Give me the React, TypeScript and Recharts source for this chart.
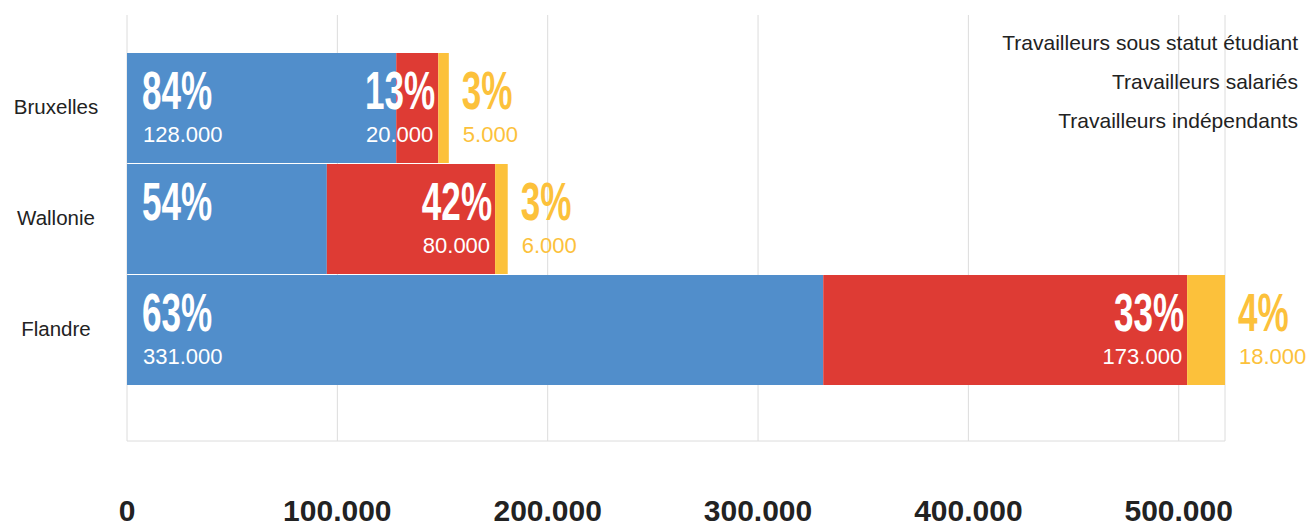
import { Bar, BarChart, CartesianGrid, LabelList, Legend, XAxis, YAxis } from 'recharts';

// Values
const regions = ['Bruxelles', 'Wallonie', 'Flandre'];
const etudiants = [128000, 95000, 331000];
const salaries = [20000, 80000, 173000];
const independants = [5000, 6000, 18000];
const pctEtudiants = [84, 54, 63];
const pctSalaries = [13, 42, 33];
const pctIndependants = [3, 3, 4];
// no count is printed for the Wallonie students
const showEtudiants = [true, false, true];
const xTicks = [0, 100000, 200000, 300000, 400000, 500000];

const seriesNames = [
  'Travailleurs sous statut étudiant',
  'Travailleurs salariés',
  'Travailleurs indépendants',
];

const data = regions.map((region, i) => ({
  region,
  etudiants: etudiants[i],
  salaries: salaries[i],
  independants: independants[i],
}));

const BLUE = '#518ecb';
const RED = '#de3b34';
const YELLOW = '#fcc13b';
const FONT = "'Liberation Sans', Arial, sans-serif";

const fmt = (v: number) =>
  v < 1000 ? String(v) : `${Math.floor(v / 1000)}.${String(v % 1000).padStart(3, '0')}`;

type Place = 'inLeft' | 'inRight' | 'outside';

function makeLabel(place: Place, values: number[], pcts: number[], color: string, show?: boolean[]) {
  return (props: any) => {
    const x = Number(props.x);
    const y = Number(props.y);
    const width = Number(props.width);
    const i = props.index ?? values.indexOf(Number(props.value));
    if (i < 0 || Number.isNaN(x)) return null;
    let tx = x + 15;
    let anchor: 'start' | 'end' = 'start';
    if (place === 'inRight') {
      tx = x + width - 3;
      anchor = 'end';
    } else if (place === 'outside') {
      tx = x + width + 13;
    }
    const showValue = show ? show[i] : true;
    return (
      <g>
        <text
          transform={`translate(${tx},${y + 56}) scale(0.65,1)`}
          textAnchor={anchor}
          fontFamily={FONT}
          fontWeight={700}
          fontSize={54}
          fill={color}
        >
          {pcts[i]}%
        </text>
        {showValue && (
          <text
            x={place === 'inRight' ? tx - 2 : tx + 1}
            y={y + 89}
            textAnchor={anchor}
            fontFamily={FONT}
            fontSize={22}
            fill={color}
          >
            {fmt(values[i])}
          </text>
        )}
      </g>
    );
  };
}

const RegionTick = (props: any) => {
  const { y, payload } = props;
  return (
    <text x={56} y={y + 6} textAnchor="middle" fontFamily={FONT} fontSize={20.5} fill="#222">
      {payload.value}
    </text>
  );
};

const ValueTick = (props: any) => {
  const { x, y, payload } = props;
  return (
    <text x={x} y={y + 72} textAnchor="middle" fontFamily={FONT} fontWeight={700} fontSize={30} fill="#222">
      {fmt(payload.value)}
    </text>
  );
};

const LegendList = () => (
  <div style={{ fontFamily: FONT, fontSize: 21, color: '#222', textAlign: 'right', lineHeight: '39px' }}>
    {seriesNames.map((name) => (
      <div key={name} style={{ whiteSpace: 'nowrap' }}>{name}</div>
    ))}
  </div>
);

export default function App() {
  return (
    <div style={{ position: 'absolute', left: 0, top: 0, width: 1310, height: 529, background: '#fff' }}>
      <BarChart
        width={1310}
        height={529}
        data={data}
        layout="vertical"
        margin={{ top: 15, right: 85, bottom: 0, left: 0 }}
        barSize={110}
      >
        <CartesianGrid horizontal={false} stroke="#dcdcdc" />
        <XAxis
          type="number"
          domain={[0, 'dataMax']}
          ticks={xTicks}
          height={88}
          axisLine={{ stroke: '#dcdcdc' }}
          tickLine={false}
          tick={<ValueTick />}
        />
        <YAxis
          type="category"
          dataKey="region"
          width={127}
          axisLine={false}
          tickLine={false}
          padding={{ top: 37, bottom: 56 }}
          tick={<RegionTick />}
        />
        <Legend
          layout="vertical"
          align="center"
          verticalAlign="middle"
          wrapperStyle={{ top: 23, right: 12, left: 'auto', width: 'auto' }}
          content={<LegendList />}
        />
        <Bar dataKey="etudiants" name={seriesNames[0]} stackId="a" fill={BLUE} isAnimationActive={false}>
          <LabelList dataKey="etudiants" content={makeLabel('inLeft', etudiants, pctEtudiants, '#fff', showEtudiants)} />
        </Bar>
        <Bar dataKey="salaries" name={seriesNames[1]} stackId="a" fill={RED} isAnimationActive={false}>
          <LabelList dataKey="salaries" content={makeLabel('inRight', salaries, pctSalaries, '#fff')} />
        </Bar>
        <Bar dataKey="independants" name={seriesNames[2]} stackId="a" fill={YELLOW} isAnimationActive={false}>
          <LabelList dataKey="independants" content={makeLabel('outside', independants, pctIndependants, YELLOW)} />
        </Bar>
      </BarChart>
    </div>
  );
}
